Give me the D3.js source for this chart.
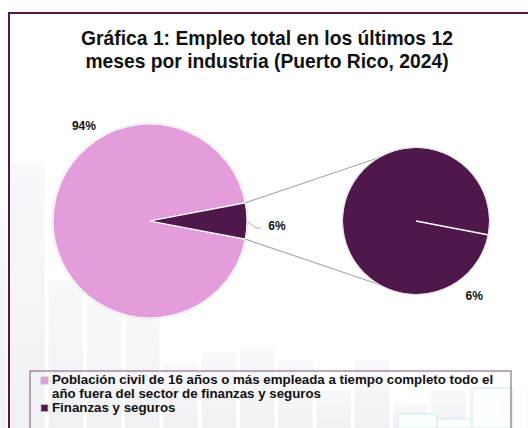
<!DOCTYPE html>
<html>
<head>
<meta charset="utf-8">
<script src="https://cdn.jsdelivr.net/npm/d3@7"></script>
<style>
  body { margin: 0; background: #fff; }
  svg { display: block; font-family: "Liberation Sans", Arial, sans-serif; }
</style>
</head>
<body>
<svg id="chart" width="528" height="428"></svg>
<script>
// chart data
const titleLines = ["Gráfica 1: Empleo total en los últimos 12", "meses por industria (Puerto Rico, 2024)"];
const categories = ["Población civil de 16 años o más empleada a tiempo completo todo el año fuera del sector de finanzas y seguros", "Finanzas y seguros"];
const values = [94, 6];
const colors = ["#e39ddb", "#50174a"];
// faint bars of the slide background (decoration only)
const bgTops = [208, 162, 280, 300, 312, 363, 352, 347, 360, 390, 360, 402, 390, 395];
const bgBoxes = [[398, 414, 437], [437, 419, 472], [472, 388, 512]];

const svg = d3.select('#chart');
const W = 528, H = 428;
const total = d3.sum(values);
const share = values[1] / total;

// background gradient for bars
const defs = svg.append('defs');
const grad = defs.append('linearGradient').attr('id', 'bg').attr('x1', 0).attr('x2', 0).attr('y1', 0).attr('y2', 1);
grad.append('stop').attr('offset', 0).attr('stop-color', '#f9f9fb');
grad.append('stop').attr('offset', 1).attr('stop-color', '#f1f1f5');

const bx = d3.scaleBand().domain(d3.range(bgTops.length)).range([-28, 504]).paddingInner(0.1);
svg.append('g').selectAll('rect').data(bgTops).join('rect')
    .attr('x', (d, i) => bx(i)).attr('width', bx.bandwidth())
    .attr('y', d => d).attr('height', d => H - d)
    .attr('fill', 'url(#bg)');
svg.append('g').selectAll('rect').data(bgBoxes).join('rect')
    .attr('x', d => d[0]).attr('y', d => d[1]).attr('width', d => d[2] - d[0]).attr('height', d => H - d[1])
    .attr('fill', '#fdfefe').attr('stroke', '#dcf0f2').attr('stroke-width', 1.5);

// frame
svg.append('rect').attr('x', 9).attr('y', 13).attr('width', 560).attr('height', 460)
    .attr('fill', 'none').attr('stroke', '#4f1a4a').attr('stroke-width', 2);

// title
svg.append('text').attr('text-anchor', 'middle').attr('font-weight', 'bold').attr('font-size', 19.3).attr('fill', '#111')
    .selectAll('tspan').data(titleLines).join('tspan')
    .attr('x', 267).attr('y', (d, i) => 45 + i * 23).text(d => d);

// main pie
const c1 = [150, 221], r1 = 97;
const c2 = [416, 221], r2 = 73;
const a0 = Math.PI / 2 + share * Math.PI; // 6% slice centred on 3 o'clock
const pie = d3.pie().sort(null).startAngle(a0).endAngle(a0 + 2 * Math.PI);
const arcs = pie(values);
const arc1 = d3.arc().innerRadius(0).outerRadius(r1);

const g1 = svg.append('g').attr('transform', `translate(${c1})`);
g1.selectAll('path').data(arcs).join('path')
    .attr('d', arc1)
    .attr('fill', (d, i) => colors[i])
    .attr('stroke', '#fff').attr('stroke-width', 1.2);
g1.append('circle').attr('r', r1 + 0.8).attr('fill', 'none').attr('stroke', '#e2e2e2').attr('stroke-width', 0.8);

// connector lines from the 6% wedge to the secondary pie
const small = arcs[1];
const pTop = d3.pointRadial(small.startAngle, r1), pBot = d3.pointRadial(small.endAngle, r1);
const tAng = 0.16 * Math.PI;
const qTop = d3.pointRadial(-tAng, r2), qBot = d3.pointRadial(Math.PI + tAng, r2);
svg.append('g').attr('stroke', '#a9a9a9').attr('stroke-width', 1.2)
    .selectAll('line').data([[pTop, qTop], [pBot, qBot]]).join('line')
    .attr('x1', d => c1[0] + d[0][0]).attr('y1', d => c1[1] + d[0][1])
    .attr('x2', d => c2[0] + d[1][0]).attr('y2', d => c2[1] + d[1][1]);

// secondary pie (the 6% expanded)
const pie2 = d3.pie().sort(null).startAngle(small.endAngle - 2 * Math.PI).endAngle(small.endAngle);
const arcs2 = pie2([values[1]]);
const arc2 = d3.arc().innerRadius(0).outerRadius(r2);
const g2 = svg.append('g').attr('transform', `translate(${c2})`);
g2.selectAll('path').data(arcs2).join('path')
    .attr('d', arc2).attr('fill', colors[1]);
g2.append('circle').attr('r', r2 + 0.6).attr('fill', 'none').attr('stroke', '#e0e0e0').attr('stroke-width', 1);
const edge = d3.pointRadial(small.endAngle, r2);
g2.append('line').attr('x1', 0).attr('y1', 0).attr('x2', edge[0]).attr('y2', edge[1])
    .attr('stroke', '#fff').attr('stroke-width', 1.5);

// data labels
const fmt = v => Math.round(v / total * 100) + '%';
const lab = svg.append('g').attr('font-weight', 'bold').attr('font-size', 12).attr('fill', '#111').attr('text-anchor', 'middle');
const p94 = d3.pointRadial(-0.193 * Math.PI, 116);
lab.append('text').attr('x', c1[0] + p94[0]).attr('y', c1[1] + p94[1] + 4).text(fmt(values[0]));
const mid = d3.pointRadial((small.startAngle + small.endAngle) / 2, r1);
svg.append('polyline')
    .attr('points', [[c1[0] + mid[0] + 1, c1[1] + mid[1] + 1], [c1[0] + mid[0] + 9, c1[1] + mid[1] + 7], [c1[0] + mid[0] + 14, c1[1] + mid[1] + 7]].join(' '))
    .attr('fill', 'none').attr('stroke', '#a9a9a9').attr('stroke-width', 1);
lab.append('text').attr('x', c1[0] + mid[0] + 30).attr('y', c1[1] + mid[1] + 9).text(fmt(values[1]));
const p6 = d3.pointRadial(0.79 * Math.PI, 95);
lab.append('text').attr('x', c2[0] + p6[0]).attr('y', c2[1] + p6[1] + 4).text(fmt(values[1]));

// legend
svg.append('rect').attr('x', 30).attr('y', 371).attr('width', 481).attr('height', 80)
    .attr('fill', 'none').attr('stroke', '#7d5579').attr('stroke-width', 1);
const leg = svg.append('g').attr('font-weight', 'bold').attr('font-size', 13.3).attr('fill', '#111');
let ly = 384;
categories.forEach((cat, i) => {
  leg.append('rect').attr('x', 41).attr('y', ly - 7).attr('width', 7).attr('height', 7)
      .attr('fill', colors[i]).attr('stroke', '#bbb').attr('stroke-width', 0.8);
  const t = leg.append('text').attr('x', 52).attr('y', ly);
  const words = cat.split(' ');
  let line = [], ts = t.append('tspan').attr('x', 52).attr('y', ly);
  words.forEach(w => {
    line.push(w);
    ts.text(line.join(' '));
    if (ts.node().getComputedTextLength() > 456 && line.length > 1) {
      line.pop();
      ts.text(line.join(' '));
      line = [w];
      ly += 13.8;
      ts = t.append('tspan').attr('x', 52).attr('y', ly).text(w);
    }
  });
  ly += 13.8;
});
</script>
</body>
</html>
